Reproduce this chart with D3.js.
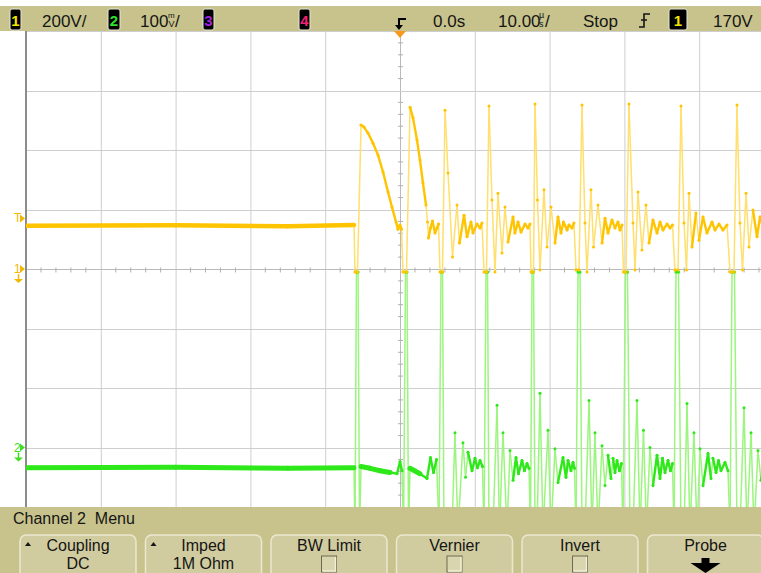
<!DOCTYPE html>
<html>
<head>
<meta charset="utf-8">
<script src="https://cdn.jsdelivr.net/npm/d3@7"></script>
<style>
  html, body { margin: 0; padding: 0; background: #fff; }
  svg { display: block; font-family: "Liberation Sans", Arial, sans-serif; }
</style>
</head>
<body>
<script>
// channel 1 samples, 200V/div : time (us) and volts
var ch1Time = [-50, -30, -15, -6.15, -6.02, -5.68, -5.21, -4.81, -4.28, -3.61, -2.94, -2.27, -1.60, -1.07, -0.53, -0.27, 0, 0.20, 0.40, 0.87,
  1.34, 1.74, 2.27, 2.67, 3.07, 3.48, 3.68, 3.81, 4.08, 4.34, 4.68, 4.95, 5.15, 5.35, 5.68,
  6.02, 6.42, 7.02, 7.62, 7.95, 8.56, 8.96, 9.49, 9.76, 10.29, 10.70, 10.96, 11.23, 11.56,
  11.90, 12.30, 12.70, 13.10, 13.64, 14.04, 14.44, 15.11, 15.37, 15.78, 16.18, 16.71, 17.11, 17.38, 17.51, 17.85,
  18.05, 18.38, 18.72, 19.25, 19.65, 20.19, 20.72, 21.12, 21.52, 21.86, 22.33, 22.59, 22.99, 23.26, 23.53, 23.93,
  24.33, 24.73, 25.00, 25.53, 25.87, 26.47, 27.01, 27.41, 27.81, 28.34, 28.74, 29.14, 29.41, 29.68, 29.88, 30.21,
  30.61, 31.15, 31.42, 31.82, 32.35, 32.89, 33.29, 33.82, 34.36, 34.76, 35.16, 35.70, 36.10, 36.43, 36.76, 37.17,
  37.57, 37.97, 38.30, 38.64, 39.04, 39.57, 39.97, 40.51, 41.04, 41.71, 42.11, 42.65, 43.18, 43.72, 44.12, 44.65,
  45.05, 45.45, 45.79, 46.26, 46.66, 47.19, 47.73, 48.13, 48.66];
var ch1Volts = [145, 147, 144, 148, -10, -10, 484, 477, 457, 423, 383, 326, 259, 208, 158, 134, 148, 134, -10, -10,
  544, 508, 434, 366, 289, 215, 158, 104, 138, 161, 121, 138, 151, -10, -10,
  534, 323, 40, 215, 87, 181, 108, 158, 121, 151, 138, 155, -10, -10,
  548, 232, -10, 255, 54, 208, 91, 175, 121, 158, 124, 151, 138, 151, -10, -10,
  555, 232, -3, 266, 74, 208, 87, 175, 121, 158, 131, 148, 138, 155, -3, -3,
  551, 155, -10, 266, 74, 215, 87, 171, 121, 165, 138, 158, 131, 148, -10, -10,
  555, 155, -3, 259, 64, 215, 87, 165, 121, 158, 131, 151, 138, 148, -3, -3,
  548, 155, -3, 255, 74, 188, 97, 175, 121, 158, 131, 151, 131, 148, -10, -10,
  551, 155, -3, 255, 74, 198, 108, 175, 131];

// channel 2 samples, 100mV/div : time (us) and millivolts (values below -100 run off the screen)
var ch2Time = [-50, -30, -15, -6.15, -6.02, -5.82, -5.61, -5.41, -5.21, -4.01, -2.67, -1.34, -0.40, 0, 0.27,
  0.47, 0.74, 0.94, 1.14, 1.34, 2.67, 3.61, 4.08, 4.48, 4.88,
  5.21, 5.48, 5.68, 5.88, 6.95, 7.35, 7.75, 8.42, 8.76, 9.09, 9.63, 10.03, 10.36, 10.70, 11.03,
  11.23, 11.50, 11.70, 11.90, 12.43, 12.97, 13.30, 13.77, 14.30, 14.71, 15.11, 15.51, 15.84, 16.31, 16.64, 16.98, 17.25,
  17.45, 17.65, 17.85, 18.05, 18.32, 18.72, 19.12, 19.79, 20.19, 20.72, 21.12, 21.79, 22.19, 22.46, 22.86, 23.13, 23.33,
  23.53, 23.80, 24.06, 24.33, 24.73, 25.27, 25.67, 26.07, 26.47, 27.01, 27.41, 27.81, 28.21, 28.48, 28.74, 29.01, 29.34, 29.61,
  29.81, 30.15, 30.41, 30.75, 31.15, 31.68, 32.09, 32.55, 32.95, 33.42, 33.82, 34.36, 34.76, 35.09, 35.43, 35.83, 36.16, 36.43,
  36.63, 36.90, 37.23, 37.57, 37.97, 38.37, 38.77, 39.30, 39.71, 40.11, 40.51, 41.18, 41.58, 41.84, 42.25, 42.58, 42.91, 43.45, 43.85,
  44.12, 44.39, 44.72, 45.05, 45.45, 45.99, 46.39, 46.93, 47.33, 47.86, 48.26, 48.80];
var ch2MilliVolts = [-34, -33, -35, -34, -140, 295, 295, -140, -32, -35, -39, -42, -44, -24, -39,
  -140, 295, 295, -140, -35, -44, -52, -17, -42, -20,
  -140, 295, 295, -140, -140, 25, -140, 8, -50, -8, -39, -18, -34, -22, -32,
  -140, 295, 295, -140, -140, 71, -140, 25, -140, -5, -55, -17, -44, -22, -39, -27, -35,
  -140, 295, 295, -140, -140, 91, -140, 29, -140, -2, -59, -17, -50, -22, -39, -25, -35,
  -140, 295, 295, -140, -140, 79, -140, 25, -140, 3, -64, -13, -52, -18, -42, -22, -39, -27,
  -140, 295, 295, -140, -140, 79, -140, 29, -140, 0, -64, -13, -52, -18, -42, -22, -39, -27,
  -140, 295, 295, -140, -140, 74, -140, 25, -140, -2, -64, -10, -52, -18, -42, -22, -39, -25, -39,
  -140, 295, 295, -140, -140, 67, -140, 25, -140, -5, -55, -22];

var ch1Trigger = 170;   // volts
var statusLabels = ["200V/", "100", "0.0s", "10.00", "Stop", "170V"];
var menuTitle = "Channel 2  Menu";
var softKeys = [
  {top: "Coupling", bottom: "DC", kind: "menu"},
  {top: "Imped", bottom: "1M Ohm", kind: "menu"},
  {top: "BW Limit", kind: "check"},
  {top: "Vernier", kind: "check"},
  {top: "Invert", kind: "check"},
  {top: "Probe", kind: "arrow"}
];

var W = 761, H = 573;
var khaki = "#c8c38c";
var gridL = 26, gridR = 761, gridT = 31, gridB = 507;

var svg = d3.select("body").append("svg")
    .attr("width", W)
    .attr("height", H);

svg.append("rect").attr("width", W).attr("height", H).attr("fill", "#fff");

// scales : 10 divisions of 10us, 8 divisions vertical
var x = d3.scaleLinear().domain([-50, 50]).range([26, 774]);
var y1 = d3.scaleLinear().domain([-800, 800]).range([gridB, gridT]);
var y2 = d3.scaleLinear().domain([-100, 700]).range([gridB, gridT]);

// graticule
var grid = svg.append("g");
var xDiv = d3.range(-40, 51, 10);
var yDiv = d3.range(-600, 801, 200);
grid.selectAll(".vl").data(xDiv).enter().append("line")
    .attr("x1", d => x(d) + 0.5).attr("x2", d => x(d) + 0.5)
    .attr("y1", gridT).attr("y2", gridB)
    .attr("stroke", d => d === 0 ? "#bababa" : "#cecece").attr("stroke-width", 1);
grid.selectAll(".hl").data(yDiv).enter().append("line")
    .attr("x1", gridL).attr("x2", gridR)
    .attr("y1", d => Math.round(y1(d)) + 0.5).attr("y2", d => Math.round(y1(d)) + 0.5)
    .attr("stroke", d => d === 0 ? "#bababa" : "#cecece").attr("stroke-width", 1);

// minor ticks on the centre lines
var yc = Math.round(y1(0)) + 0.5;
grid.selectAll(".mx").data(d3.range(-48, 50, 2).filter(d => d % 10 !== 0)).enter().append("line")
    .attr("x1", d => x(d)).attr("x2", d => x(d))
    .attr("y1", yc - 2).attr("y2", yc + 3)
    .attr("stroke", "#b0b0b0");
grid.selectAll(".my").data(d3.range(-760, 800, 40).filter(d => d % 200 !== 0)).enter().append("line")
    .attr("x1", x(0) - 2).attr("x2", x(0) + 3)
    .attr("y1", d => y1(d)).attr("y2", d => y1(d))
    .attr("stroke", "#b0b0b0");

grid.append("line")
    .attr("x1", gridL).attr("x2", gridL).attr("y1", gridT).attr("y2", gridB)
    .attr("stroke", "#8c8c8c").attr("stroke-width", 2);

// traces
svg.append("clipPath").attr("id", "screen")
  .append("rect").attr("x", gridL).attr("y", gridT).attr("width", gridR - gridL).attr("height", gridB - gridT);
var plot = svg.append("g").attr("clip-path", "url(#screen)");

// steep segments are drawn faint (fast sweep), slow parts and turning points bright
function drawTrace(times, vals, yScale, slow, fast, band) {
  var pts = times.map(function(t, i) { return [x(t), yScale(vals[i])]; });
  var segs = d3.pairs(pts).map(function(p) {
    var dx = Math.abs(p[1][0] - p[0][0]), dy = Math.abs(p[1][1] - p[0][1]);
    return {p: p, fast: dy / Math.max(dx, 0.5) > 9, long: dx > 8};
  });
  var g = plot.append("g").attr("stroke-linecap", "round");
  g.selectAll(".f").data(segs.filter(s => s.fast)).enter().append("line")
      .attr("x1", s => s.p[0][0]).attr("y1", s => s.p[0][1])
      .attr("x2", s => s.p[1][0]).attr("y2", s => s.p[1][1])
      .attr("stroke", fast).attr("stroke-width", 1.5);
  g.selectAll(".s").data(segs.filter(s => !s.fast)).enter().append("line")
      .attr("x1", s => s.p[0][0]).attr("y1", s => s.p[0][1])
      .attr("x2", s => s.p[1][0]).attr("y2", s => s.p[1][1])
      .attr("stroke", slow).attr("stroke-width", s => s.long ? band : 2.4);
  g.selectAll(".d").data(pts).enter().append("circle")
      .attr("cx", d => d[0]).attr("cy", d => d[1]).attr("r", 1.5)
      .attr("fill", slow);
}

drawTrace(ch2Time, ch2MilliVolts, y2, "#2ee81a", "#9cf57e", 5);
drawTrace(ch1Time, ch1Volts, y1, "#ffc400", "#ffdf6e", 4.5);

// left side markers
var yel = "#f0b800", grn = "#3ee020";
function marker(label, yy, col, ground) {
  var g = svg.append("g").attr("fill", col);
  g.append("text").attr("x", 14).attr("y", yy + 4).attr("font-size", 12).text(label);
  g.append("path").attr("d", "M20," + (yy - 4) + "L25," + yy + "L20," + (yy + 4) + "Z");
  if (ground) {
    g.append("path").attr("d", "M18.5," + (yy + 5) + "V" + (yy + 11))
        .attr("stroke", col).attr("stroke-width", 1.5).attr("fill", "none");
    g.append("path").attr("d", "M14," + (yy + 10) + "H23L18.5," + (yy + 14) + "Z");
  }
}
marker("T", y1(ch1Trigger), yel, false);
marker("1", y1(0), yel, true);
marker("2", y2(0), grn, true);

// status bar
var bar = svg.append("g");
bar.append("rect").attr("x", 0).attr("y", 6).attr("width", W).attr("height", gridT - 6).attr("fill", khaki);

function chanBox(bx, w, label, col) {
  bar.append("rect").attr("x", bx).attr("y", 9).attr("width", w).attr("height", 21).attr("rx", 2)
      .attr("fill", "#000").attr("stroke", "#e8e6d8").attr("stroke-width", 1);
  bar.append("text").attr("x", bx + w / 2).attr("y", 26).attr("text-anchor", "middle")
      .attr("font-size", 15).attr("font-weight", "bold").attr("fill", col).text(label);
}
chanBox(10, 11, "1", "#f2e600");
chanBox(108, 12, "2", "#2fe02f");
chanBox(203, 11, "3", "#a020e0");
chanBox(299, 11, "4", "#f0207a");
chanBox(669, 18, "1", "#f2e600");

var st = bar.append("g").attr("font-size", 17).attr("fill", "#151515");
st.append("text").attr("x", 42).attr("y", 27).text(statusLabels[0]);
st.append("text").attr("x", 140).attr("y", 27).text(statusLabels[1]);
st.append("text").attr("x", 168).attr("y", 18).attr("font-size", 8).text("m");
st.append("text").attr("x", 168.5).attr("y", 27).attr("font-size", 9).text("V");
st.append("text").attr("x", 175).attr("y", 27).text("/");
st.append("text").attr("x", 433).attr("y", 27).text(statusLabels[2]);
st.append("text").attr("x", 498).attr("y", 27).text(statusLabels[3]);
st.append("text").attr("x", 539).attr("y", 18).attr("font-size", 9).text("\u00b5");
st.append("text").attr("x", 539).attr("y", 27).attr("font-size", 9).text("s");
st.append("text").attr("x", 545).attr("y", 27).text("/");
st.append("text").attr("x", 583).attr("y", 27).text(statusLabels[4]);
st.append("text").attr("x", 713).attr("y", 27).text(statusLabels[5]);

// trigger edge symbol
bar.append("path").attr("d", "M639,27H644V14H650M641,20H647")
    .attr("fill", "none").attr("stroke", "#151515").attr("stroke-width", 1.6);

// trigger position marker
bar.append("path").attr("d", "M406,19H399V28").attr("fill", "none").attr("stroke", "#000").attr("stroke-width", 2);
bar.append("path").attr("d", "M395,25L403,25L399,30Z").attr("fill", "#000");
svg.append("path").attr("d", "M394," + gridT + "H406L400," + (gridT + 7) + "Z").attr("fill", "#f59a1e");

// softkey menu
var menu = svg.append("g");
menu.append("rect").attr("x", 0).attr("y", gridB).attr("width", W).attr("height", H - gridB).attr("fill", khaki);
menu.append("text").attr("x", 13).attr("y", 524).attr("font-size", 16).attr("fill", "#151515")
    .style("white-space", "pre").text(menuTitle);

var keyX = d3.scaleLinear().domain([0, 1]).range([20, 145.5]);
softKeys.forEach(function(k, i) {
  var bx = keyX(i), bw = 116, cx = bx + bw / 2;
  var g = menu.append("g");
  g.append("rect").attr("x", bx).attr("y", 535).attr("width", bw).attr("height", 50).attr("rx", 6)
      .attr("fill", "#d1cca0").attr("stroke", "#ebe8cf").attr("stroke-width", 1.5);
  g.append("text").attr("x", cx).attr("y", 551).attr("text-anchor", "middle")
      .attr("font-size", 16).attr("fill", "#151515").text(k.top);
  if (k.kind === "menu") {
    g.append("text").attr("x", cx).attr("y", 569).attr("text-anchor", "middle")
        .attr("font-size", 16).attr("fill", "#151515").text(k.bottom);
    g.append("path").attr("d", "M" + (bx + 5) + ",546L" + (bx + 8) + ",542L" + (bx + 11) + ",546Z").attr("fill", "#151515");
  } else if (k.kind === "check") {
    g.append("rect").attr("x", cx - 7.5).attr("y", 556).attr("width", 15).attr("height", 16)
        .attr("fill", "#d9d5ae").attr("stroke", "#6e6a50").attr("stroke-width", 1);
    g.append("path").attr("d", "M" + (cx - 6.5) + ",571H" + (cx + 6.5) + "V557")
        .attr("fill", "none").attr("stroke", "#f2f0dc").attr("stroke-width", 1.5);
  } else {
    g.append("path").attr("d", "M" + (cx - 15) + ",563H" + (cx + 15) + "L" + cx + ",573Z").attr("fill", "#000");
    g.append("rect").attr("x", cx - 4).attr("y", 558).attr("width", 8).attr("height", 6).attr("fill", "#000");
  }
});
</script>
</body>
</html>
